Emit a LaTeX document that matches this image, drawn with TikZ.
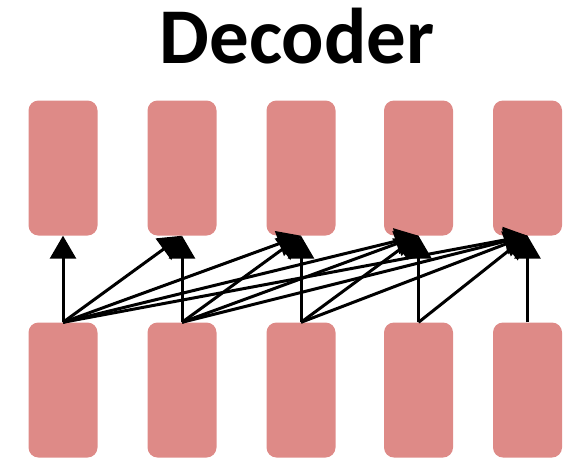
\documentclass[tikz,border=0pt]{standalone}
\usepackage{fontspec}
\setmainfont{Carlito}
\usepackage{xcolor}
\usetikzlibrary{arrows.meta}
\definecolor{cellred}{RGB}{222,138,135}

\begin{document}
\begin{tikzpicture}[x=1pt, y=-1pt,
    cell/.style = {shape=rectangle, rounded corners=10pt, fill=cellred,
        inner sep=0pt, minimum width=69pt, minimum height=135pt},
    attn/.style = {line width=3pt, -{Triangle[width=26pt,length=23pt]}}]
        \useasboundingbox (0,0) rectangle (575,459);
        \node[font=\fontsize{79}{79}\selectfont\bfseries, anchor=base] (title) at (297,63) {Decoder};
        \foreach \x [count=\i] in {63,182,301,418.5,527.5} {
            \node[cell] (top\i) at (\x,168) {};
            \node[cell] (bot\i) at (\x,390) {};
        }
        \foreach \i in {1,...,5}
            \foreach \j in {\i,...,5}
                \draw[attn] (bot\i.north) -- (top\j.south);
\end{tikzpicture}
\end{document}
